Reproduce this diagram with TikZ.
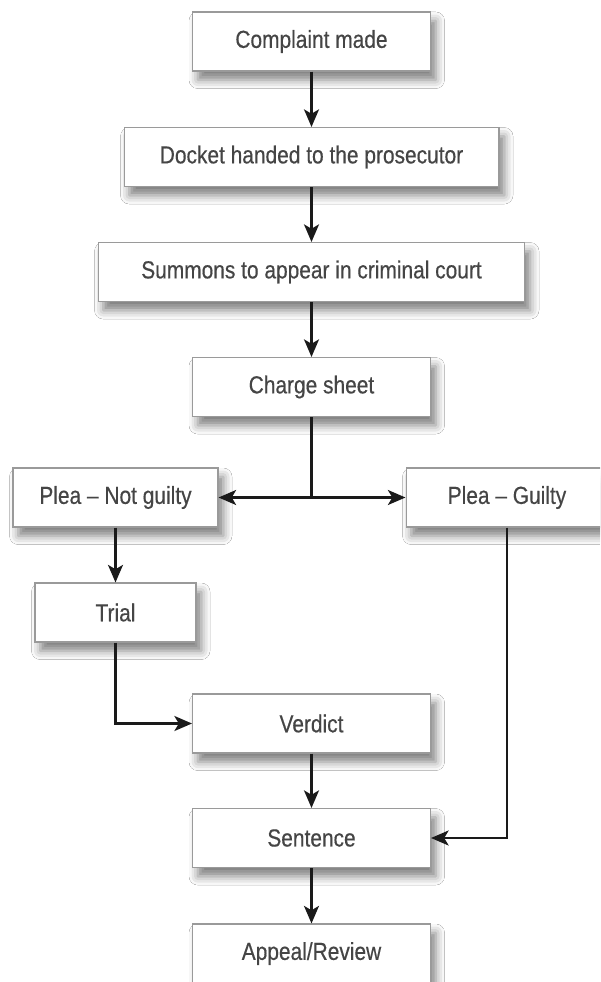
\documentclass[tikz,border=0pt]{standalone}
\usepackage{fontspec}
\setmainfont{Liberation Sans}[FakeStretch=0.85,FakeBold=0.4]
\usepackage{xcolor}
\usetikzlibrary{arrows.meta,shadows.blur}
\definecolor{boxline}{HTML}{9A9A9A}
\definecolor{boxtext}{HTML}{454545}
\definecolor{wire}{HTML}{1A1A1A}

\begin{document}
\begin{tikzpicture}[x=0.02cm,y=-0.02cm,every node/.style={font=\fontsize{14}{16}\selectfont,text=boxtext},stage/.style={draw=boxline,fill=white,line width=.6pt,minimum height=1.18cm,inner sep=0pt,blur shadow={shadow xshift=3pt,shadow yshift=-5pt,shadow blur radius=5pt,shadow opacity=50}},flow/.style={wire,line width=1.4pt,-{Stealth[length=10pt,width=8.5pt,inset=2.5pt]}},link/.style={wire,line width=1.4pt}]
\useasboundingbox (0,0) rectangle (600,982);\clip (0,0) rectangle (600,982);\fill[white] (0,0) rectangle (600,982);
% main column
\node[stage,minimum width=4.76cm] (complaint) at (311.5,41.5){Complaint made};
\node[stage,minimum width=7.5cm] (docket) at (311.5,157){Docket handed to the prosecutor};
\node[stage,minimum width=8.54cm] (summons) at (311.5,272){Summons to appear in criminal court};
\node[stage,minimum width=4.76cm] (charge) at (311.5,387){Charge sheet};
% pleas
\node[stage,minimum width=4.1cm] (notguilty) at (115.5,497.5){Plea -- Not guilty};
\node[stage,minimum width=4.04cm] (guilty) at (507,497.5){Plea -- Guilty};
\node[stage,minimum width=3.22cm] (trial) at (115.5,612.5){Trial};
\node[stage,minimum width=4.76cm] (verdict) at (311.5,723.5){Verdict};
\node[stage,minimum width=4.76cm] (sentence) at (311.5,838){Sentence};
\node[stage,minimum width=4.76cm] (appeal) at (311.5,953.5){Appeal/Review};
% connectors
\draw[flow] (complaint.south)--(docket.north);\draw[flow] (docket.south)--(summons.north);\draw[flow] (summons.south)--(charge.north);
\draw[link] (charge.south)--(charge.south|-notguilty.east) coordinate (fork);\draw[flow] (fork)--(notguilty.east);\draw[flow] (fork)--(guilty.west);
\draw[flow] (notguilty.south)--(trial.north);\draw[flow] (trial.south)|-(verdict.west);
\draw[flow] (verdict.south)--(sentence.north);\draw[flow] (guilty.south)|-(sentence.east);\draw[flow] (sentence.south)--(appeal.north);
\end{tikzpicture}
\end{document}
